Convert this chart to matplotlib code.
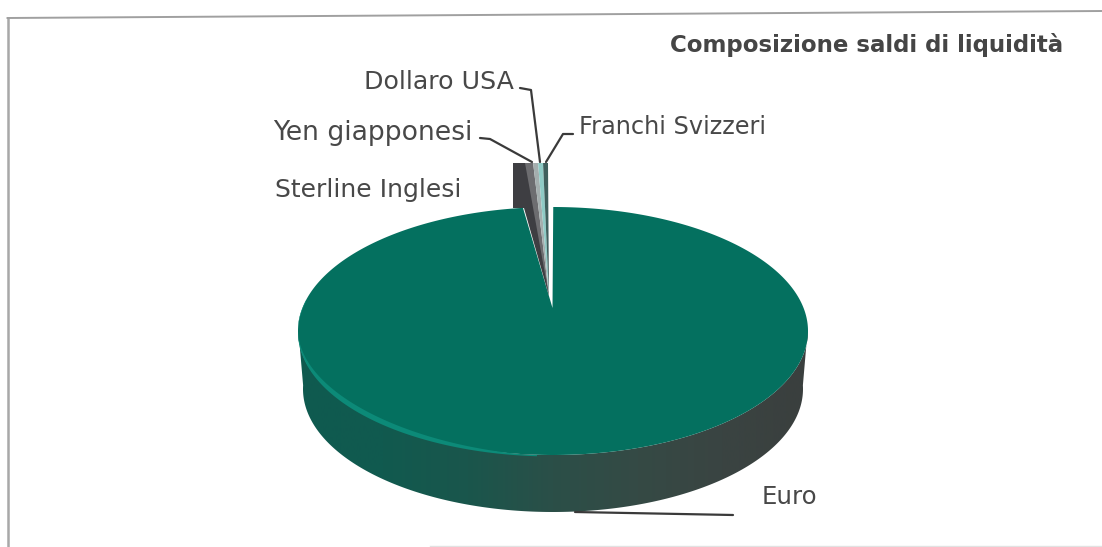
import numpy as np
import matplotlib
matplotlib.use("Agg")
import matplotlib.pyplot as plt
from matplotlib.patches import Polygon

categories = ["Euro", "Sterline Inglesi", "Yen giapponesi", "Dollaro USA", "Franchi Svizzeri"]
shares = [98.12, 0.95, 0.31, 0.31, 0.31]
slice_colors = ["#04705f", "#6d6d70", "#a4aeae", "#8fcbc6", "#3f5f5d"]
title = "Composizione saldi di liquidità"

W, H = 1102, 547
plt.rcParams["font.family"] = ["DejaVu Sans"]
fig = plt.figure(figsize=(W / 100, H / 100), dpi=100)
ax = fig.add_axes([0, 0, 1, 1])
ax.set_xlim(0, W)
ax.set_ylim(H, 0)
ax.axis("off")

# frame (slightly skewed scan)
ax.plot([7.5, 7.5], [546, 18], color="#a8a8a8", lw=1.8, zorder=1)
ax.plot([7.5, 1102], [18, 11], color="#a0a0a0", lw=1.4, zorder=1)
ax.plot([430, 1102], [545.5, 545.5], color="#e2e2e2", lw=1, zorder=1)

cx, cy, rx, ry, depth = 553, 331, 255, 124, 57
apex = (552.5, 308)
apex_small = (549, 296)

fracs = np.array(shares) / sum(shares)
edges = np.concatenate([[0], np.cumsum(fracs)]) * 2 * np.pi
ex = lambda t: cx + rx * np.sin(t)
ey = lambda t: cy - ry * np.cos(t)

# side wall with a horizontal gradient; bottom edge a little narrower (perspective)
t = np.linspace(np.pi / 2 - 0.03, 3 * np.pi / 2 + 0.03, 300)
bx = cx + (rx - 5) * np.sin(t)
by = cy - (ry - 1) * np.cos(t) + depth + 1
wall = np.vstack([np.c_[ex(t), ey(t)], np.c_[bx[::-1], by[::-1]]])
patch = Polygon(wall, closed=True, fc="none", ec="none", zorder=2)
ax.add_patch(patch)
cmap = matplotlib.colors.LinearSegmentedColormap.from_list(
    "wall", ["#0f5a50", "#115a4f", "#1a564c", "#2b4f48", "#354a45", "#3a4442", "#3a3f3e"])
im = ax.imshow(np.linspace(0, 1, 256)[None, :], extent=[cx - rx, cx + rx, H, 0], cmap=cmap,
               aspect="auto", zorder=2)
im.set_clip_path(patch)
ax.set_xlim(0, W)
ax.set_ylim(H, 0)

# Euro top face
te = np.linspace(edges[0] + 0.001, edges[1], 500)
euro = np.vstack([[apex], np.c_[ex(te), ey(te)]])
ax.add_patch(Polygon(euro, closed=True, fc=slice_colors[0], ec="none", zorder=4))

# bright rim along the front-left edge
tr = np.linspace(1.02 * np.pi, 1.58 * np.pi, 200)[::-1]
thick = 6 * np.clip(np.sin((tr - 1.0 * np.pi) / 0.6), 0.2, 1)
rim = np.vstack([np.c_[ex(tr), ey(tr) + 1.5], np.c_[ex(tr[::-1]), ey(tr[::-1]) + 1.5 - thick[::-1]]])
ax.add_patch(Polygon(rim, closed=True, fc="#0c8a78", ec="none", zorder=5))

# small raised slices, drawn back into the notch of the Euro slice
top_y = 163
ang = edges[1:] - 2 * np.pi
x_shift = -5
for i in range(1, len(shares)):
    a0, a1 = ang[i - 1], ang[i]
    pts = [(ex(a0) + x_shift, top_y), (ex(a1) + x_shift, top_y), apex_small]
    ax.add_patch(Polygon(pts, closed=True, fc=slice_colors[i], ec="none", zorder=5))
# dark outer wall of the first small slice
wall_bottom = 208
ax.add_patch(Polygon([(513, top_y), (525, top_y), apex_small, (524, wall_bottom), (513, wall_bottom)],
                     closed=True, fc="#3e3e42", ec="none", zorder=6))

# leader lines
lc = "#3a3a3a"
leaders = [
    [(520, 88), (531, 90), (540, 162)],
    [(480, 138), (490, 139), (532, 162)],
    [(573, 134), (563, 134), (546, 162)],
    [(575, 512), (733, 515)],
]
for pts in leaders:
    xs, ys = zip(*pts)
    ax.plot(xs, ys, color=lc, lw=1.6, zorder=7, solid_capstyle="round")

# labels
tc = "#484848"
ax.text(364, 82, categories[3], fontsize=18.2, color=tc, va="center", ha="left")
ax.text(273, 133, categories[2], fontsize=19.2, color=tc, va="center", ha="left")
ax.text(579, 127, categories[4], fontsize=17.3, color=tc, va="center", ha="left")
ax.text(275, 190, categories[1], fontsize=18, color=tc, va="center", ha="left")
ax.text(762, 497, categories[0], fontsize=17.6, color=tc, va="center", ha="left")
ax.text(1063, 45, title, fontsize=16.5, color="#454545", va="center", ha="right", fontweight="bold")

fig.savefig("out.png", dpi=100)
